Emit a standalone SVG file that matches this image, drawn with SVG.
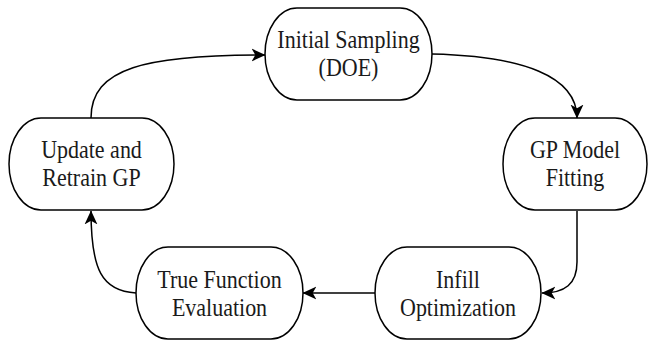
<svg xmlns="http://www.w3.org/2000/svg" width="648" height="342" viewBox="0 0 648 342">
  <style>
    .node { fill: #ffffff; stroke: #000000; stroke-width: 1.5; }
    .lbl { font-family: "Liberation Serif", "Times New Roman", serif; font-size: 22px; fill: #1a1a1a; text-anchor: middle; }
    .edge { fill: none; stroke: #000000; stroke-width: 1.5; }
  </style>
  <defs>
    <marker id="arrow" markerUnits="userSpaceOnUse" markerWidth="14" markerHeight="14" viewBox="0 0 13 12" refX="12.5" refY="6" orient="auto">
      <path d="M0,0 L13,6 L0,12 L3.5,6 Z" fill="#000000"/>
    </marker>
  </defs>
  <rect width="648" height="342" fill="#ffffff"/>
  <g id="edges">
    <path class="edge" d="M432,54 C522,56 577,76 577,118" marker-end="url(#arrow)"/>
    <path class="edge" d="M577,211 L577,262 C577,284 565,293 542,293" marker-end="url(#arrow)"/>
    <path class="edge" d="M375,293 L303,293" marker-end="url(#arrow)"/>
    <path class="edge" d="M136,293 C102,291 91,270 91,211" marker-end="url(#arrow)"/>
    <path class="edge" d="M91,118 C91,68 145,55 265,55" marker-end="url(#arrow)"/>
  </g>
  <g id="node-initial">
    <rect class="node" x="265" y="8" width="167" height="92" rx="32" ry="46"/>
    <text class="lbl" transform="translate(348.5,48) scale(1,1.1)">Initial Sampling</text>
    <text class="lbl" transform="translate(348.5,76) scale(1,1.1)">(DOE)</text>
  </g>
  <g id="node-gp">
    <rect class="node" x="503" y="118" width="144" height="92" rx="32" ry="46"/>
    <text class="lbl" transform="translate(575,158) scale(1,1.1)">GP Model</text>
    <text class="lbl" transform="translate(575,186) scale(1,1.1)">Fitting</text>
  </g>
  <g id="node-infill">
    <rect class="node" x="375" y="247" width="166" height="92" rx="32" ry="46"/>
    <text class="lbl" transform="translate(458,288) scale(1,1.1)">Infill</text>
    <text class="lbl" transform="translate(458,316) scale(1,1.1)">Optimization</text>
  </g>
  <g id="node-true">
    <rect class="node" x="136" y="247" width="167" height="92" rx="32" ry="46"/>
    <text class="lbl" transform="translate(219.5,288) scale(1,1.1)">True Function</text>
    <text class="lbl" transform="translate(219.5,316) scale(1,1.1)">Evaluation</text>
  </g>
  <g id="node-update">
    <rect class="node" x="9" y="118" width="165" height="92" rx="32" ry="46"/>
    <text class="lbl" transform="translate(91.5,158) scale(1,1.1)">Update and</text>
    <text class="lbl" transform="translate(91.5,186) scale(1,1.1)">Retrain GP</text>
  </g>
</svg>
